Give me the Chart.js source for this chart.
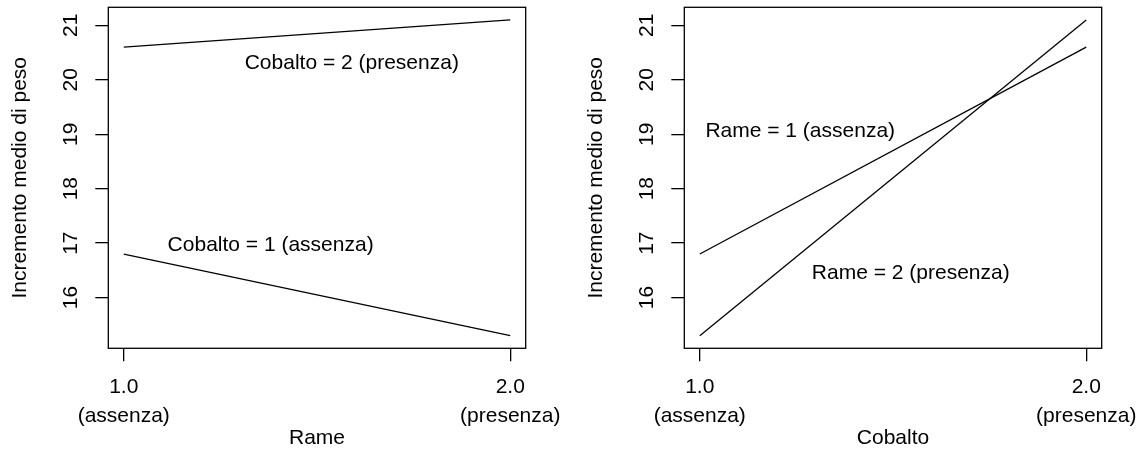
<!DOCTYPE html>
<html>
<head>
<meta charset="utf-8">
<script src="https://cdn.jsdelivr.net/npm/chart.js@4.4.1/dist/chart.umd.min.js"></script>
<style>
	body { margin: 0; background: #fff; }
	#wrap { position: relative; width: 1137px; height: 453px; overflow: hidden; background: #fff; }
	canvas { position: absolute; top: 0; }
</style>
</head>
<body>
<div id="wrap">
	<canvas id="chartRame" width="561" height="453" style="left:0px"></canvas>
	<canvas id="chartCobalto" width="561" height="453" style="left:576px"></canvas>
</div>
<script>
// livelli dei fattori e etichette degli assi
const levels = [1, 2];
const xTickLabels = [['1.0', '(assenza)'], ['2.0', '(presenza)']];
const yTicks = [16, 17, 18, 19, 20, 21];

// incremento medio per Rame, con Cobalto fissato
const cobalto1 = [16.8, 15.3];
const cobalto2 = [20.6, 21.1];
// incremento medio per Cobalto, con Rame fissato
const rame1 = [16.8, 20.6];
const rame2 = [15.3, 21.1];

// scritte dentro i grafici (coordinate dei dati)
const notesRame = ['Cobalto = 2 (presenza)', 'Cobalto = 1 (assenza)'];
const notesRameAt = [[1.59, 20.31], [1.38, 16.96]];
const notesCobalto = ['Rame = 1 (assenza)', 'Rame = 2 (presenza)'];
const notesCobaltoAt = [[1.26, 19.06], [1.546, 16.44]];

const FAMILY = '"Liberation Sans", Arial, Helvetica, sans-serif';
const font = { family: FAMILY, size: 21, lineHeight: 1.2 };

// limiti come in R: intervallo dei dati +/- 4%
const allY = cobalto1.concat(cobalto2);
const yLo = Math.min(...allY), yHi = Math.max(...allY);
const yMin = yLo - (yHi - yLo) * 0.04, yMax = yHi + (yHi - yLo) * 0.04;
const xMin = levels[0] - 0.04, xMax = levels[1] + 0.04;

// cornice e scritte
const boxAndNotes = {
	id: 'boxAndNotes',
	afterDatasetsDraw(chart, args, opts) {
		const { ctx, chartArea: a, scales: { x, y } } = chart;
		ctx.save();
		ctx.strokeStyle = '#000';
		ctx.lineWidth = 1.3;
		ctx.strokeRect(a.left, a.top, a.right - a.left, a.bottom - a.top);
		ctx.font = `21px ${FAMILY}`;
		ctx.fillStyle = '#000';
		ctx.textAlign = 'center';
		ctx.textBaseline = 'middle';
		opts.texts.forEach((t, i) => {
			ctx.fillText(t, x.getPixelForValue(opts.at[i][0]), y.getPixelForValue(opts.at[i][1]));
		});
		ctx.restore();
	}
};

let makeConfig = (xTitle, series, names, texts, at) => {
	return {
		type: 'line',
		data: {
			datasets: series.map((s, i) => ({
				label: names[i],
				data: levels.map((lv, j) => ({ x: lv, y: s[j] })),
				borderColor: '#000',
				borderWidth: 1.3,
				pointRadius: 0,
				tension: 0,
				fill: false
			}))
		},
		options: {
			responsive: false,
			animation: false,
			events: [],
			layout: { padding: { top: 7.3, right: 35.3, left: 0, bottom: 0 } },
			plugins: {
				legend: { display: false },
				tooltip: { enabled: false },
				boxAndNotes: { texts: texts, at: at }
			},
			scales: {
				x: {
					type: 'linear',
					min: xMin,
					max: xMax,
					afterBuildTicks: s => { s.ticks = levels.map(v => ({ value: v })); },
					ticks: {
						callback: (v, i) => xTickLabels[i],
						font: { family: FAMILY, size: 21, lineHeight: '29.5px' },
						color: '#000',
						padding: 11,
						maxRotation: 0,
						autoSkip: false
					},
					grid: { drawOnChartArea: false, drawTicks: true, tickLength: 13, color: '#000', lineWidth: 1.3 },
					border: { display: false },
					title: { display: true, text: xTitle, font: font, color: '#000', padding: { top: 0, bottom: 2 } },
					afterFit: s => { s.height = 453 - 348.3; s.paddingLeft = 0; s.paddingRight = 0; }
				},
				y: {
					type: 'linear',
					min: yMin,
					max: yMax,
					afterBuildTicks: s => { s.ticks = yTicks.map(v => ({ value: v })); },
					ticks: {
						callback: v => String(v),
						font: font,
						color: '#000',
						padding: 12,
						minRotation: 90,
						maxRotation: 90,
						crossAlign: 'center'
					},
					grid: { drawOnChartArea: false, drawTicks: true, tickLength: 13, color: '#000', lineWidth: 1.3 },
					border: { display: false },
					title: { display: true, text: 'Incremento medio di peso', font: font, color: '#000', padding: { top: 7.4, bottom: 0 } },
					afterFit: s => { s.width = 108.3; s.paddingTop = 0; s.paddingBottom = 0; }
				}
			}
		},
		plugins: [boxAndNotes]
	};
};

new Chart(document.getElementById('chartRame'),
	makeConfig('Rame', [cobalto1, cobalto2], ['Cobalto = 1', 'Cobalto = 2'], notesRame, notesRameAt));
new Chart(document.getElementById('chartCobalto'),
	makeConfig('Cobalto', [rame1, rame2], ['Rame = 1', 'Rame = 2'], notesCobalto, notesCobaltoAt));
</script>
</body>
</html>
